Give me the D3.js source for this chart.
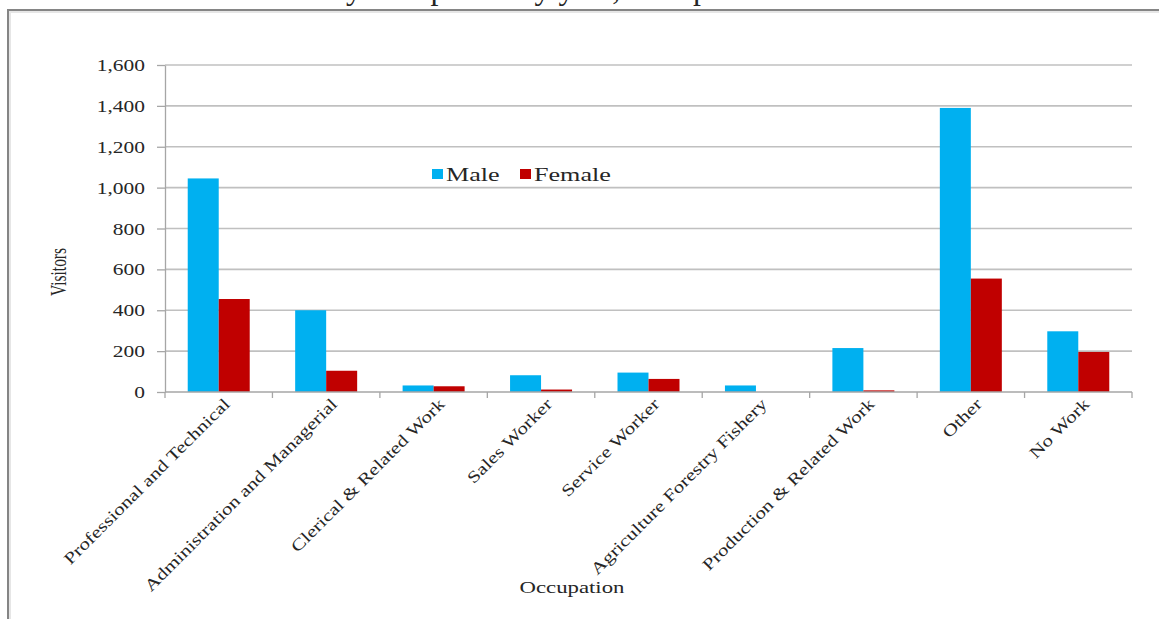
<!DOCTYPE html>
<html>
<head>
<meta charset="utf-8">
<script src="https://cdn.jsdelivr.net/npm/d3@7"></script>
<style>
  html, body { margin: 0; padding: 0; background: #fff; }
  svg { display: block; }
  text { font-family: "Liberation Serif", "Times New Roman", serif; fill: #262626; }
</style>
</head>
<body>
<svg id="chart" width="1159" height="619"></svg>
<script>
// ---- data ----
const categories = [
  "Professional and Technical",
  "Administration and Managerial",
  "Clerical & Related Work",
  "Sales Worker",
  "Service Worker",
  "Agriculture Forestry Fishery",
  "Production & Related Work",
  "Other",
  "No Work"
];
const seriesNames = ["Male", "Female"];
const maleValues   = [1045, 400, 32, 82, 95, 32, 215, 1390, 297];
const femaleValues = [455, 104, 28, 12, 64, 0, 8, 555, 196];
const yTicks = [0, 200, 400, 600, 800, 1000, 1200, 1400, 1600];
const colors = ["#00b0f0", "#c00000"];
const titleText = "Number of Visitors by occupation by year, with percent";

// ---- layout ----
const W = 1159, H = 619;
const plot = { left: 165, right: 1132, top: 65, bottom: 392 };
const SX = 1.34; // horizontal stretch of the original picture

const svg = d3.select("#chart");
svg.append("rect").attr("width", W).attr("height", H).attr("fill", "#fff");

// cut-off title at the very top (only descenders visible, as in the reference)
const title = svg.append("text")
  .attr("x", 0).attr("y", -1)
  .attr("font-size", 32)
  .attr("fill", "#000")
  .text(titleText);
{
  const idx = titleText.indexOf("by occupation") + 1;
  const off = title.node().getSubStringLength(0, idx);
  title.attr("x", 346 - off);
}

// frame
svg.append("rect")
  .attr("x", 9).attr("y", 11).attr("width", 1300).attr("height", 800)
  .attr("fill", "none").attr("stroke", "#e6e6e6").attr("stroke-width", 4);
svg.append("rect")
  .attr("x", 8).attr("y", 10).attr("width", 1300).attr("height", 800)
  .attr("fill", "none").attr("stroke", "#858585").attr("stroke-width", 2);

// scales
const x0 = d3.scaleBand().domain(categories)
  .range([plot.left, plot.right])
  .paddingInner(0.423).paddingOuter(0.2115);
const x1 = d3.scaleBand().domain(seriesNames).range([0, x0.bandwidth()]);
const y = d3.scaleLinear().domain([0, 1600]).range([plot.bottom, plot.top]);

// gridlines
svg.append("g").selectAll("line")
  .data(yTicks.filter(d => d > 0))
  .join("line")
  .attr("x1", plot.left).attr("x2", plot.right)
  .attr("y1", d => y(d)).attr("y2", d => y(d))
  .attr("stroke", "#c0c0c0").attr("stroke-width", 1.7);

// y axis
const yAxis = svg.append("g")
  .attr("transform", `translate(${plot.left},0)`)
  .call(d3.axisLeft(y).tickValues(yTicks).tickFormat(d3.format(",")).tickSize(8).tickSizeOuter(0));
yAxis.select(".domain").attr("stroke", "#a6a6a6").attr("stroke-width", 1.3);
yAxis.selectAll(".tick line").attr("stroke", "#a6a6a6").attr("stroke-width", 1.3);
yAxis.selectAll(".tick text")
  .attr("x", 0).attr("dy", "0.35em")
  .attr("transform", `translate(-20,0) scale(${SX},1)`)
  .attr("font-size", 16)
  .attr("font-family", "Liberation Serif")
  .attr("fill", "#262626");

// bars
const data = categories.map((c, i) => ({ cat: c, values: [maleValues[i], femaleValues[i]] }));
const groups = svg.append("g").selectAll("g")
  .data(data).join("g")
  .attr("transform", d => `translate(${x0(d.cat)},0)`);
groups.selectAll("rect")
  .data(d => d.values.map((v, k) => ({ key: seriesNames[k], v, k })))
  .join("rect")
  .attr("x", d => x1(d.key))
  .attr("width", x1.bandwidth())
  .attr("y", d => y(d.v))
  .attr("height", d => y(0) - y(d.v))
  .attr("fill", d => colors[d.k]);

// x axis line + boundary ticks
const step = x0.step();
svg.append("line")
  .attr("x1", plot.left).attr("x2", plot.right)
  .attr("y1", y(0)).attr("y2", y(0))
  .attr("stroke", "#a6a6a6").attr("stroke-width", 1.3);
svg.append("g").selectAll("line")
  .data(d3.range(categories.length + 1))
  .join("line")
  .attr("x1", i => plot.left + i * step).attr("x2", i => plot.left + i * step)
  .attr("y1", y(0)).attr("y2", y(0) + 6)
  .attr("stroke", "#a6a6a6").attr("stroke-width", 1.3);

// category labels
svg.append("g").selectAll("text")
  .data(categories).join("text")
  .attr("transform", d => `translate(${x0(d) + x0.bandwidth() / 2 + 8},${y(0) + 9}) rotate(-45) scale(1.28,1)`)
  .attr("text-anchor", "end")
  .attr("dy", "0.35em")
  .attr("font-size", 16.5)
  .text(d => d);

// axis titles
svg.append("text")
  .attr("transform", `translate(66,272) rotate(-90) scale(1,1.5)`)
  .attr("text-anchor", "middle")
  .attr("font-size", 15.5)
  .text("Visitors");
svg.append("text")
  .attr("transform", `translate(572,593) scale(${SX},1)`)
  .attr("text-anchor", "middle")
  .attr("font-size", 17)
  .text("Occupation");

// legend
const legend = svg.append("g").attr("transform", "translate(432,174)");
const legendX = [0, 88];
seriesNames.forEach((name, k) => {
  const g = legend.append("g").attr("transform", `translate(${legendX[k]},0)`);
  g.append("rect").attr("x", 0).attr("y", -5).attr("width", 11).attr("height", 10).attr("fill", colors[k]);
  g.append("text")
    .attr("transform", `translate(14,0) scale(${SX},1)`)
    .attr("dy", "0.35em")
    .attr("font-size", 19.5)
    .text(name);
});
</script>
</body>
</html>
